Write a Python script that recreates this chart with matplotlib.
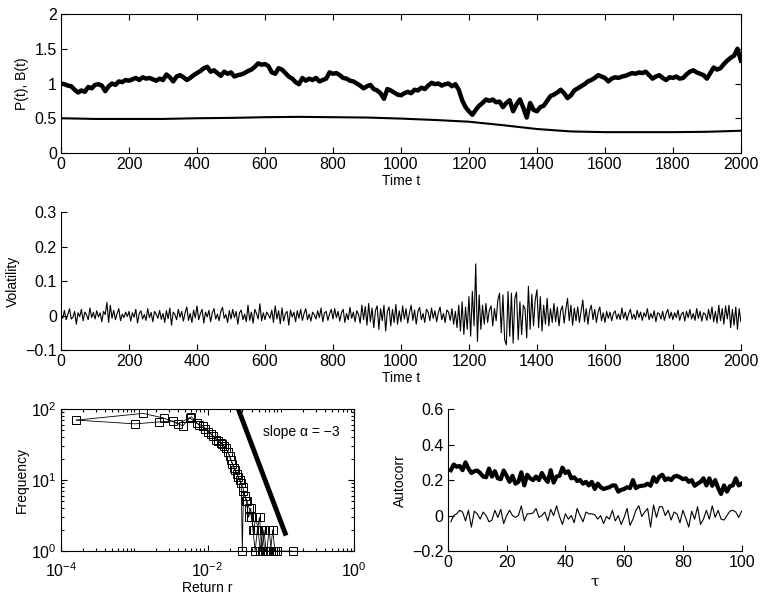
import numpy as np
import matplotlib
matplotlib.use("Agg")
import matplotlib.pyplot as plt
from matplotlib.ticker import FuncFormatter, LogLocator, FixedLocator, NullFormatter

plt.rcParams['font.family'] = ['Liberation Sans', 'DejaVu Sans']
plt.rcParams['font.size'] = 11

# price P(t), sampled every 10 steps
t_price = np.arange(0, 2001, 10)
price = [
    1.00, 0.99, 0.97, 0.96, 0.91, 0.87, 0.90, 0.88, 0.95, 0.93,
    0.98, 0.99, 0.97, 0.89, 0.96, 1.00, 0.98, 1.03, 1.02, 1.05,
    1.04, 1.06, 1.08, 1.05, 1.09, 1.07, 1.08, 1.06, 1.04, 1.07,
    1.05, 1.13, 1.09, 1.03, 1.10, 1.12, 1.09, 1.05, 1.08, 1.12,
    1.15, 1.18, 1.22, 1.24, 1.17, 1.19, 1.15, 1.11, 1.17, 1.14,
    1.16, 1.10, 1.12, 1.13, 1.15, 1.18, 1.20, 1.24, 1.29, 1.27,
    1.28, 1.25, 1.16, 1.14, 1.22, 1.20, 1.15, 1.10, 1.07, 1.02,
    0.99, 1.08, 1.04, 1.07, 1.05, 1.08, 1.03, 1.05, 1.07, 1.16,
    1.14, 1.15, 1.12, 1.08, 1.07, 1.04, 1.03, 1.00, 0.97, 0.93,
    0.96, 0.98, 0.92, 0.90, 0.86, 0.78, 0.92, 0.90, 0.87, 0.84,
    0.83, 0.86, 0.88, 0.86, 0.91, 0.90, 0.94, 0.92, 0.97, 1.01,
    0.99, 1.00, 0.97, 0.99, 1.00, 0.96, 0.99, 0.91, 0.76, 0.66,
    0.60, 0.55, 0.62, 0.68, 0.72, 0.77, 0.75, 0.77, 0.73, 0.74,
    0.66, 0.72, 0.76, 0.60, 0.70, 0.77, 0.65, 0.51, 0.72, 0.62,
    0.60, 0.66, 0.68, 0.75, 0.82, 0.84, 0.87, 0.91, 0.86, 0.79,
    0.83, 0.90, 0.93, 0.96, 0.99, 1.03, 1.05, 1.08, 1.12, 1.10,
    1.08, 1.03, 1.07, 1.09, 1.08, 1.10, 1.11, 1.13, 1.15, 1.14,
    1.16, 1.15, 1.17, 1.12, 1.07, 1.10, 1.12, 1.08, 1.05, 1.09,
    1.08, 1.10, 1.07, 1.08, 1.13, 1.17, 1.19, 1.16, 1.14, 1.12,
    1.07, 1.15, 1.23, 1.20, 1.22, 1.28, 1.33, 1.37, 1.40, 1.50,
    1.33,
]

# B(t), sampled every 100 steps
t_b = np.arange(0, 2001, 100)
b_val = [0.50, 0.49, 0.49, 0.49, 0.50, 0.505, 0.515, 0.52, 0.515, 0.51,
         0.495, 0.475, 0.45, 0.40, 0.345, 0.31, 0.30, 0.30, 0.30, 0.305, 0.32]

# volatility (returns), every 5 steps, in units of 1e-3
t_vol = np.arange(0, 2001, 5)
vol_milli = [
    5, -8, 15, -12, 3, 20, -10, -5, 12, -25, 8, -3, 18, -15, 10, 2, -12, 22, -6, 9,
    -10, 14, -4, 8, -18, 12, 3, 38, -20, 30, -8, 15, -12, 6, 20, -15, 4, -6, 10, -3,
    12, -16, 8, -5, 18, -22, 6, 14, -10, 3, -14, 20, -6, 9, -18, 12, 4, -8, 15, -11,
    6, -20, 14, -9, 22, -28, 10, 3, -12, 18, -5, 12, -16, 8, 25, -14, 6, -20, 16, -7,
    28, -12, 6, 18, -22, 10, -4, 15, -18, 8, 20, -10, 4, -15, 12, 24, -8, 3, -20, 14,
    -10, 18, -6, 12, -25, 8, 16, -12, 4, -18, 30, -14, 10, -22, 18, 6, -10, 34, -15, 8,
    -12, 10, 2, -8, 16, -20, 28, -10, 14, -24, 22, -16, 6, 12, -28, 16, -4, 10, -18, 14,
    -8, 18, -14, 6, 20, -12, 4, -16, 10, 2, -10, 14, -6, 22, -18, 8, 12, -14, 5, 18,
    -10, 20, -6, 12, -16, 8, 18, -20, 6, -12, 24, -8, 10, -18, 14, 4, -22, 30, -12, 26,
    -28, 35, -18, 22, -35, 15, 28, -40, 20, -15, 30, -45, 12, 25, -30, 18, -20, 32, -25, 14,
    -18, 28, -10, 20, -22, 8, 30, -14, 16, -25, 12, 24, -12, 6, -20, 18, 10, -15, 22, -8,
    14, -18, 8, 25, -12, 6, -20, 16, 10, -14, 20, -25, 12, -35, 30, -45, 40, -55, 25, -40,
    55, -60, 70, -30, 150, -75, 60, -40, 30, -25, 35, -20, 15, 28, -30, 20, -15, 45, 65, -50,
    60, -70, -85, 70, -60, 65, -80, 50, 68, -70, 40, -55, 30, 20, -65, 85, -40, 62, -30, 45,
    75, -35, 55, -45, 30, -25, 50, -30, 20, -20, 35, -18, 25, -30, 15, 28, -22, 18, 50, -15,
    30, -28, 22, -15, 25, -20, 12, 45, -18, 20, -25, 15, 30, -12, 18, -20, 10, 25, -15, 8,
    -20, 12, -8, 10, -15, 6, 14, -10, 5, -12, 22, -8, 10, -14, 6, 18, -10, 4, -12, 15,
    -6, 10, -14, 8, -4, 20, -12, 6, -8, 14, -18, 8, 5, -10, 12, -14, 6, 18, -8, 10,
    -12, 8, -6, 16, -14, 4, 10, -16, 12, -6, 18, -10, 6, -14, 20, -8, 12, -16, 8, 4,
    -14, 18, -10, 25, -18, 12, -22, 30, -15, 20, -25, 28, -10, 30, -35, 18, -28, 25, -40, 20,
    -18,
]
vol = np.array(vol_milli) / 1000.0

# return distributions (two runs): log10 of return, frequency
ret_a_log = [-3.79, -2.88, -2.60, -2.40, -2.22, -2.12, -2.03, -1.95, -1.88, -1.82,
             -1.77, -1.72, -1.68, -1.64, -1.60, -1.56, -1.52, -1.49, -1.46, -1.43,
             -1.40, -1.37, -1.34, -1.31, -1.28, -1.25, -1.22, -1.19, -1.16, -1.13,
             -1.10, -0.84]
freq_a = [70, 87, 75, 62, 78, 60, 52, 44, 37, 33,
          30, 25, 19, 15, 12, 10, 8, 6, 5, 4,
          3, 2, 3, 2, 1, 2, 1, 1, 2, 1,
          1, 1]
ret_b_log = [-3.79, -2.99, -2.66, -2.47, -2.34, -2.24, -2.15, -2.06, -1.99, -1.92,
             -1.86, -1.80, -1.75, -1.70, -1.66, -1.62, -1.58, -1.54, -1.525, -1.51,
             -1.47, -1.44, -1.41, -1.38, -1.35, -1.32, -1.29, -1.26, -1.23, -1.20,
             -1.17, -1.14, -1.11, -1.08, -1.05]
freq_b = [70, 62, 66, 68, 58, 75, 63, 58, 48, 42,
          36, 32, 28, 22, 17, 14, 11, 9, 1, 7,
          5, 3, 4, 2, 1, 2, 3, 1, 2, 1,
          1, 1, 2, 1, 1]
slope_r_log = [-1.58, -0.94]
slope_f = [100, 1.78]

# autocorrelation vs lag
tau = np.arange(1, 101)
ac_abs = [
    0.256, 0.288, 0.275, 0.28, 0.256, 0.30, 0.265, 0.24, 0.25, 0.254,
    0.24, 0.22, 0.216, 0.265, 0.22, 0.25, 0.21, 0.205, 0.254, 0.224,
    0.19, 0.224, 0.18, 0.19, 0.244, 0.17, 0.23, 0.21, 0.20, 0.22,
    0.20, 0.24, 0.21, 0.19, 0.256, 0.186, 0.22, 0.224, 0.27, 0.24,
    0.25, 0.21, 0.216, 0.195, 0.20, 0.18, 0.19, 0.17, 0.19, 0.15,
    0.18, 0.16, 0.15, 0.155, 0.16, 0.17, 0.17, 0.135, 0.145, 0.15,
    0.16, 0.155, 0.20, 0.155, 0.165, 0.168, 0.17, 0.18, 0.168, 0.216,
    0.19, 0.22, 0.23, 0.20, 0.21, 0.20, 0.22, 0.224, 0.216, 0.205,
    0.21, 0.19, 0.20, 0.168, 0.18, 0.19, 0.21, 0.17, 0.21, 0.168,
    0.20, 0.155, 0.122, 0.17, 0.135, 0.165, 0.17, 0.21, 0.17, 0.18,
]
ac_raw = [
    -0.035, 0.0, 0.01, 0.03, 0.02, -0.03, 0.03, -0.065, 0.025, 0.01,
    -0.02, 0.02, 0.0, -0.035, -0.025, 0.03, -0.01, 0.035, -0.045, 0.0,
    0.03, 0.0, -0.01, 0.0, 0.055, -0.03, 0.01, 0.01, 0.015, 0.04,
    -0.01, 0.0, 0.02, -0.03, 0.035, 0.0, 0.055, -0.005, -0.05, 0.01,
    -0.02, 0.0, -0.04, 0.04, 0.0, -0.035, 0.02, 0.01, 0.01, 0.005,
    -0.02, 0.0, -0.045, -0.005, -0.02, 0.03, -0.03, 0.0, -0.05, -0.01,
    0.04, -0.055, -0.02, 0.03, 0.055, -0.005, 0.02, 0.04, -0.065, 0.06,
    -0.01, 0.05, 0.05, 0.0, 0.03, -0.025, 0.02, 0.01, -0.04, 0.03,
    -0.015, -0.065, 0.025, -0.02, 0.05, -0.05, -0.02, 0.03, -0.02, 0.055,
    -0.01, 0.03, -0.02, -0.025, 0.0, 0.025, 0.03, 0.02, -0.01, 0.025,
]

TICK_FS = 11.5
LABEL_FS = 10


def fmt(v, pos):
    return f'{round(v, 6):g}'.replace('-', '\u2212')


def style(ax, box):
    ax.tick_params(which='both', direction='in', top=box, right=box, width=0.8)
    ax.tick_params(which='major', length=4.5, labelsize=TICK_FS, pad=3)
    ax.tick_params(which='minor', length=2.5)
    for s in ax.spines.values():
        s.set_linewidth(0.8)
    if not box:
        ax.spines['top'].set_visible(False)
        ax.spines['right'].set_visible(False)


fig = plt.figure(figsize=(7.63, 5.99), dpi=100)

ax1 = fig.add_axes([0.080, 0.7446, 0.891, 0.232])
ax1.plot(t_price, price, color='black', lw=3.2)
ax1.plot(t_b, b_val, color='black', lw=1.5)
ax1.set_xlim(0, 2000)
ax1.set_ylim(0, 2)
ax1.set_xticks(np.arange(0, 2001, 200))
ax1.set_yticks([0, 0.5, 1, 1.5, 2])
ax1.yaxis.set_major_formatter(FuncFormatter(fmt))
ax1.set_xlabel('Time t', fontsize=LABEL_FS, labelpad=1)
ax1.set_ylabel('P(t), B(t)', fontsize=LABEL_FS, labelpad=4)
style(ax1, True)

ax2 = fig.add_axes([0.080, 0.4157, 0.891, 0.230])
ax2.plot(t_vol, vol, color='black', lw=0.8)
ax2.set_xlim(0, 2000)
ax2.set_ylim(-0.1, 0.3)
ax2.set_xticks(np.arange(0, 2001, 200))
ax2.set_yticks([-0.1, 0, 0.1, 0.2, 0.3])
ax2.yaxis.set_major_formatter(FuncFormatter(fmt))
ax2.set_xlabel('Time t', fontsize=LABEL_FS, labelpad=1)
ax2.set_ylabel('Volatility', fontsize=LABEL_FS, labelpad=4)
style(ax2, False)

ax3 = fig.add_axes([0.080, 0.080, 0.384, 0.237])
for rl, fr in [(ret_a_log, freq_a), (ret_b_log, freq_b)]:
    ax3.plot(10.0 ** np.array(rl), fr, color='black', lw=0.6, marker='s',
             markersize=6, markerfacecolor='none', markeredgewidth=0.7, clip_on=False)
ax3.plot(10.0 ** np.array(slope_r_log), slope_f, color='black', lw=3.5)
ax3.set_xscale('log')
ax3.set_yscale('log')
ax3.set_xlim(1e-4, 1)
ax3.set_ylim(1, 100)
ax3.xaxis.set_major_locator(FixedLocator([1e-4, 1e-2, 1]))
ax3.xaxis.set_minor_locator(LogLocator(base=10, subs=np.arange(1, 10), numticks=20))
ax3.xaxis.set_minor_formatter(NullFormatter())
ax3.text(0.058, 48, 'slope \u03b1 = \u22123', fontsize=LABEL_FS, va='center', ha='left')
ax3.set_xlabel('Return r', fontsize=LABEL_FS, labelpad=1)
ax3.set_ylabel('Frequency', fontsize=LABEL_FS, labelpad=2)
style(ax3, True)
ax3.tick_params(axis='x', which='major', pad=7)

ax4 = fig.add_axes([0.587, 0.080, 0.385, 0.237])
ax4.plot(tau, ac_abs, color='black', lw=3.0)
ax4.plot(tau, ac_raw, color='black', lw=0.8)
ax4.set_xlim(0, 100)
ax4.set_ylim(-0.2, 0.6)
ax4.set_xticks(np.arange(0, 101, 20))
ax4.set_yticks([-0.2, 0, 0.2, 0.4, 0.6])
ax4.yaxis.set_major_formatter(FuncFormatter(fmt))
ax4.set_xlabel('\u03c4', fontsize=11, family='DejaVu Serif', labelpad=3)
ax4.set_ylabel('Autocorr', fontsize=LABEL_FS, labelpad=4)
style(ax4, False)

fig.savefig('out.png', dpi=100)
